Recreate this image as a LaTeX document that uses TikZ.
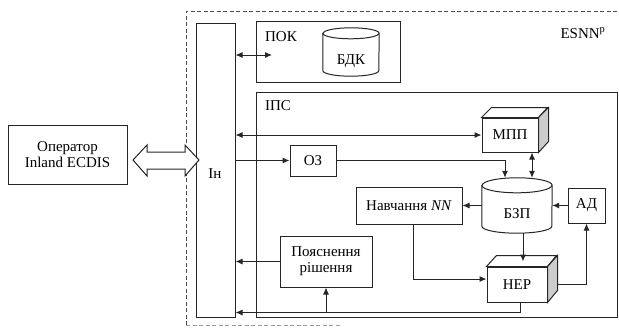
\documentclass[tikz,border=0pt]{standalone}
\usepackage{fontspec}
\setmainfont{Liberation Serif}
\usetikzlibrary{arrows.meta}
\begin{document}
\begin{tikzpicture}[x=1pt,y=-1pt,
  font=\fontsize{15}{17}\selectfont,
  ln/.style={draw=black!85, line width=1pt},
  box/.style={ln, fill=white, inner sep=0pt},
  txt/.style={inner sep=0pt},
  arr/.style={ln, -{Latex[length=7pt,width=6pt]}},
  darr/.style={ln, {Latex[length=7pt,width=6pt]}-{Latex[length=7pt,width=6pt]}},
  frame/.style={draw=black!70, line width=0.7pt, dash pattern=on 4pt off 2.5pt},
  side/.style={ln, fill=black!20},
  topface/.style={ln, fill=white}
]
\useasboundingbox (0,0) rectangle (619,327);

% dashed outer frame
\draw[frame] (186,325) -- (186,11) -- (619,11);
\draw[frame, draw=black!40] (186,325) -- (340,325);
\node[txt] (esnn) at (583,33) {ESNN\textsuperscript{p}};

% main containers
\node[box, minimum width=361pt, minimum height=225pt] (ips) at (436.5,204.5) {};
\node[txt] (ipslbl) at (278,106) {ІПС};
\node[box, minimum width=144pt, minimum height=61pt] (pok) at (328,51.5) {};
\node[txt] (poklbl) at (281,37) {ПОК};
\node[box, minimum width=39pt, minimum height=294pt] (in) at (215.5,170) {};
\node[txt] (inlbl) at (215,174) {Ін};

% operator
\node[box, minimum width=119pt, minimum height=59pt, align=center] (op) at (67.5,154.5)
  {Оператор\\[-1pt]Inland ECDIS};

% БДК cylinder
\node[minimum width=56pt, minimum height=48pt, inner sep=0pt] (bdk) at (351,52) {};
\draw[ln, fill=white] ([yshift=-5.5pt]bdk.north west) -- ([yshift=5.5pt]bdk.south west)
  arc[start angle=180, end angle=360, x radius=28pt, y radius=5.5pt]
  -- ([yshift=-5.5pt]bdk.north east)
  arc[start angle=0, end angle=180, x radius=28pt, y radius=5.5pt] -- cycle;
\draw[ln] ([yshift=-5.5pt]bdk.north west) arc[start angle=180, end angle=360, x radius=28pt, y radius=5.5pt];
\node[txt] (bdklbl) at (351,61) {БДК};

% БЗП cylinder
\node[minimum width=70pt, minimum height=55pt, inner sep=0pt] (bzp) at (517,205.5) {};
\draw[ln, fill=white] ([yshift=-7.5pt]bzp.north west) -- ([yshift=7pt]bzp.south west)
  arc[start angle=180, end angle=360, x radius=35pt, y radius=7pt]
  -- ([yshift=-7.5pt]bzp.north east)
  arc[start angle=0, end angle=180, x radius=35pt, y radius=7.5pt] -- cycle;
\draw[ln] ([yshift=-7.5pt]bzp.north west) arc[start angle=180, end angle=360, x radius=35pt, y radius=7.5pt];
\node[txt] (bzplbl) at (517,214) {БЗП};

% МПП 3D box
\node[box, minimum width=56pt, minimum height=34pt] (mpp) at (510,135) {МПП};
\draw[topface] (mpp.north west) -- ++(10,-10) -- ++(56,0) -- (mpp.north east) -- cycle;
\draw[side] (mpp.north east) -- ++(10,-10) -- ++(0,34) -- (mpp.south east) -- cycle;

% НЕР 3D box
\node[box, minimum width=60pt, minimum height=35pt] (ner) at (517,284.5) {НЕР};
\draw[topface] (ner.north west) -- ++(10,-11) -- ++(60,0) -- (ner.north east) -- cycle;
\draw[side] (ner.north east) -- ++(10,-11) -- ++(0,35) -- (ner.south east) -- cycle;

% other boxes
\node[box, minimum width=46pt, minimum height=31pt] (oz) at (313,160.5) {ОЗ};
\node[box, minimum width=37pt, minimum height=35pt] (ad) at (586.5,205.5) {АД};
\node[box, minimum width=106pt, minimum height=37pt] (nav) at (409,205.5) {Навчання \textit{NN}};
\node[box, minimum width=92pt, minimum height=51pt, align=center] (poy) at (326,261.5)
  {Пояснення\\[-1pt]рішення};

% connectors
\coordinate (pokin) at (272,55);
\draw[darr] (in.east |- pokin) -- (pokin);
\draw[darr] (in.east |- mpp.west) -- (mpp.west);
\draw[arr] (in.east |- oz.west) -- (oz.west);
\draw[arr] (oz.east) -| ([xshift=-12pt]bzp.north);
\draw[darr] ([xshift=22pt]mpp.south) -- ([xshift=22pt]mpp.south |- bzp.north);
\draw[arr] (bzp.west) -- (nav.east);
\draw[arr] (ad.west) -- (bzp.east);
\draw[arr] ([xshift=4pt]nav.south) |- ([yshift=5.5pt]ner.west);
\draw[arr] ([xshift=6pt]bzp.south) -- ([xshift=6pt,yshift=5pt]ner.north);
\draw[arr] ([xshift=10pt]ner.east) -| (ad.south);
\coordinate (bend) at ([xshift=3pt,yshift=-10pt]ner.south);
\draw[arr] ([xshift=3pt]ner.south) -- (bend) -- (bend -| in.east);
\draw[arr] (poy.south |- bend) -- (poy.south);
\draw[arr] (poy.west) -- (poy.west -| in.east);

% hollow double arrow operator <-> Ін
\draw[ln, fill=white] (133,160) -- (147,145) -- (147,152) -- (185,152) -- (185,145)
  -- (199,160) -- (185,176) -- (185,169) -- (147,169) -- (147,176) -- cycle;
\end{tikzpicture}
\end{document}
